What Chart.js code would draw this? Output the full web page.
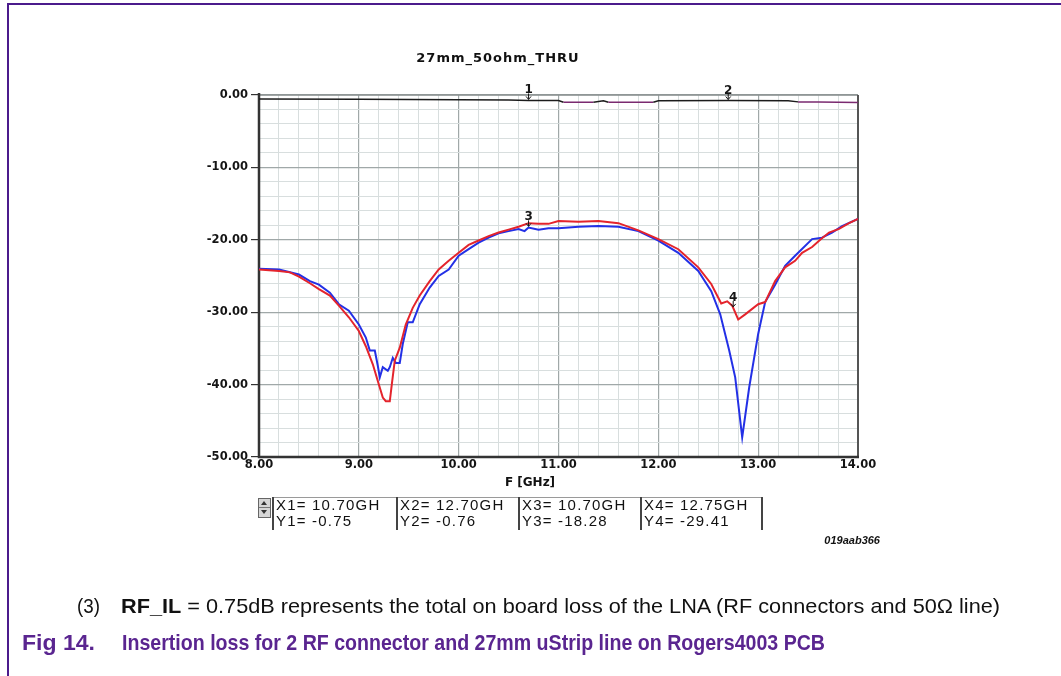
<!DOCTYPE html>
<html>
<head>
<meta charset="utf-8">
<title>27mm_50ohm_THRU</title>
<script src="https://cdn.jsdelivr.net/npm/chart.js@4.4.1/dist/chart.umd.min.js"></script>
<style>
    html, body { margin: 0; padding: 0; background: #ffffff; }
    body { width: 1061px; height: 676px; position: relative; overflow: hidden; font-family: "Liberation Sans", Arial, sans-serif; }
    #frame-top { position: absolute; left: 7px; top: 3px; width: 1054px; height: 2px; background: #4b1b8c; }
    #frame-left { position: absolute; left: 7px; top: 3px; width: 2px; height: 673px; background: #4b1b8c; }
    #chart-wrap { position: absolute; left: 0; top: 0; width: 1061px; height: 676px; }
    .chart-title { position: absolute; top: 50px; left: 405px; width: 186px; text-align: center; font: bold 13px "DejaVu Sans", sans-serif; color: #111; letter-spacing: 1px; }
    .axis-title { position: absolute; top: 475px; left: 470px; width: 120px; text-align: center; font: bold 12px "DejaVu Sans", sans-serif; color: #111; }
    .spinner { position: absolute; left: 258px; top: 498px; width: 11px; height: 18px; border: 1px solid #666; background: #d6d6d6; }
    .spinner div { position: absolute; left: 2px; width: 0; height: 0; border-left: 3px solid transparent; border-right: 3px solid transparent; }
    .spinner .up { top: 2px; border-bottom: 4px solid #333; }
    .spinner .down { top: 11px; border-top: 4px solid #333; }
    .spinner .mid { top: 8px; left: 0; width: 11px; height: 0; border: 0; border-top: 1px solid #777; }
    .readout-top { position: absolute; left: 272px; top: 497px; width: 489px; height: 0; border-top: 1px solid #9a9a9a; }
    .cell { position: absolute; top: 497px; height: 33px; border-left: 2px solid #444; font: 15px "Liberation Sans", Arial, sans-serif; color: #111; line-height: 16px; padding-left: 2px; white-space: nowrap; letter-spacing: 1.2px; overflow: hidden; }
    .cell.last { border-right: 2px solid #444; }
    .fig-id { position: absolute; top: 534px; left: 790px; width: 90px; text-align: right; font: italic bold 11px "Liberation Sans", Arial, sans-serif; color: #111; }
    .fit { position: absolute; white-space: nowrap; transform-origin: 0 0; }
    .note { font-size: 21px; color: #111; }
    .fig { font-size: 22px; font-weight: bold; color: #5a2590; }
</style>
</head>
<body>
<div id="frame-top"></div>
<div id="frame-left"></div>
<div id="chart-wrap"><canvas id="thruChart" width="1061" height="676"></canvas></div>

<div class="chart-title">27mm_50ohm_THRU</div>
<div class="axis-title">F [GHz]</div>

<div class="spinner"><div class="up"></div><div class="mid"></div><div class="down"></div></div>
<div class="readout-top"></div>
<div id="readout"></div>
<div class="fig-id">019aab366</div>

<div class="fit note" id="note-num" data-width="23" style="left:77px; top:594px;">(3)</div>
<div class="fit note" id="note-text" data-width="879" style="left:121px; top:594px;"><b>RF_IL</b> = 0.75dB represents the total on board loss of the LNA (RF connectors and 50Ω line)</div>
<div class="fit fig" id="fig-num" data-width="73" style="left:22px; top:630px;">Fig 14.</div>
<div class="fit fig" id="fig-text" data-width="703" style="left:122px; top:630px;">Insertion loss for 2 RF connector and 27mm uStrip line on Rogers4003 PCB</div>

<script>
// ==================== Data ====================
// Frequency axis (GHz) and loss axis (dB)
const xMajorTicks = [8, 9, 10, 11, 12, 13, 14];
const yMajorTicks = [0, -10, -20, -30, -40, -50];

// THRU trace (near 0 dB)
const thruFreq = [8.0, 9.0, 10.0, 10.5, 10.7, 11.0, 11.05, 11.35, 11.45, 11.5, 11.95, 12.0, 12.7, 13.3, 13.4, 13.6, 14.0];
const thruLoss = [-0.55, -0.6, -0.65, -0.7, -0.75, -0.75, -1.0, -1.0, -0.8, -1.0, -1.0, -0.8, -0.76, -0.8, -0.95, -0.95, -1.05];

// Red trace
const redFreq = [8.00, 8.20, 8.31, 8.40, 8.51, 8.60, 8.71, 8.80, 8.90, 9.00, 9.07, 9.14, 9.19, 9.24, 9.27, 9.31, 9.33, 9.36, 9.41, 9.47,
    9.54, 9.61, 9.71, 9.80, 9.90, 10.00, 10.10, 10.20, 10.30, 10.40, 10.50, 10.60, 10.70, 10.80, 10.90, 11.00, 11.20, 11.40, 11.60, 11.80,
    12.00, 12.20, 12.40, 12.53, 12.63, 12.69, 12.74, 12.80, 12.87, 13.00, 13.07, 13.17, 13.27, 13.37, 13.44, 13.54, 13.63, 13.71, 13.81, 13.91, 14.00];
const redLoss = [-24.1, -24.3, -24.5, -25.1, -26.0, -26.8, -27.7, -29.1, -30.7, -32.6, -34.7, -37.2, -39.5, -41.8, -42.3, -42.3, -40.0, -36.7, -34.9, -31.7,
    -29.4, -27.7, -25.7, -24.1, -22.9, -21.8, -20.7, -20.1, -19.5, -19.0, -18.6, -18.2, -17.7, -17.8, -17.8, -17.4, -17.5, -17.4, -17.7, -18.7,
    -19.9, -21.3, -23.8, -26.1, -28.8, -28.5, -29.1, -31.0, -30.3, -28.9, -28.6, -25.7, -23.8, -22.9, -21.8, -21.0, -19.9, -19.0, -18.5, -17.7, -17.1];

// Blue trace
const blueFreq = [8.00, 8.20, 8.40, 8.51, 8.60, 8.71, 8.80, 8.90, 9.00, 9.07, 9.11, 9.16, 9.19, 9.21, 9.24, 9.29, 9.31, 9.34, 9.37, 9.41,
    9.44, 9.49, 9.54, 9.61, 9.71, 9.80, 9.90, 10.00, 10.10, 10.20, 10.30, 10.40, 10.50, 10.60, 10.66, 10.70, 10.80, 10.90, 11.00, 11.20,
    11.40, 11.60, 11.80, 12.00, 12.20, 12.40, 12.53, 12.62, 12.71, 12.77, 12.84, 12.91, 13.00, 13.07, 13.17, 13.27, 13.37, 13.54, 13.64, 13.74, 13.84, 14.00];
const blueLoss = [-24.0, -24.1, -24.8, -25.7, -26.2, -27.3, -28.9, -29.8, -31.7, -33.5, -35.3, -35.3, -37.4, -39.0, -37.6, -38.1, -37.6, -36.3, -37.0, -37.0,
    -34.4, -31.4, -31.4, -28.9, -26.6, -25.0, -24.1, -22.2, -21.3, -20.4, -19.7, -19.1, -18.8, -18.5, -18.8, -18.3, -18.6, -18.4, -18.4, -18.2,
    -18.1, -18.2, -18.8, -20.1, -21.8, -24.3, -27.1, -30.3, -35.3, -39.0, -47.3, -40.4, -33.0, -28.6, -26.2, -23.6, -22.2, -19.9, -19.7, -19.0, -18.1, -17.1];

// Markers 1..4
const markerLabels = ['1', '2', '3', '4'];
const markerFreq = [10.70, 12.70, 10.70, 12.75];
const markerLoss = [-0.75, -0.76, -18.28, -29.41];
const markerUnit = 'GH';

// ==================== Helpers ====================
function toPoints(xs, ys) {
    return xs.map((x, i) => ({ x: x, y: ys[i] }));
}

function isMajor(list, value) {
    return list.some(t => Math.abs(t - value) < 1e-6);
}

// Readout strip under the chart
function renderReadout() {
    const lefts = [272, 396, 518, 640];
    const box = document.getElementById('readout');
    box.innerHTML = markerLabels.map((label, i) => {
        const last = i === markerLabels.length - 1 ? ' last' : '';
        const width = i === markerLabels.length - 1 ? 117 : lefts[i + 1] - lefts[i] - 4;
        return `<div class="cell${last}" style="left:${lefts[i]}px; width:${width}px;">` +
            `X${label}= ${markerFreq[i].toFixed(2)}${markerUnit}<br>Y${label}= ${markerLoss[i].toFixed(2)}</div>`;
    }).join('');
}

// Squeeze caption lines to the narrow face of the original
function fitCaptions() {
    document.querySelectorAll('.fit[data-width]').forEach(el => {
        const target = parseFloat(el.dataset.width);
        const w = el.getBoundingClientRect().width;
        if (w > 0) el.style.transform = `scaleX(${target / w})`;
    });
}

// Plot frame: heavy left/bottom axes, lighter top/right
const framePlugin = {
    id: 'frame',
    beforeDatasetsDraw(chart) {
        const { ctx, chartArea: a } = chart;
        ctx.save();
        ctx.strokeStyle = '#8a9090';
        ctx.lineWidth = 1.5;
        ctx.beginPath();
        ctx.moveTo(a.left, a.top);
        ctx.lineTo(a.right, a.top);
        ctx.stroke();
        ctx.strokeStyle = '#555';
        ctx.lineWidth = 2;
        ctx.beginPath();
        ctx.moveTo(a.right, a.top);
        ctx.lineTo(a.right, a.bottom);
        ctx.stroke();
        ctx.strokeStyle = '#333';
        ctx.lineWidth = 2.5;
        ctx.beginPath();
        ctx.moveTo(a.left, a.top - 2);
        ctx.lineTo(a.left, a.bottom);
        ctx.lineTo(a.right + 1, a.bottom);
        ctx.stroke();
        ctx.restore();
    }
};

// Marker numbers with a small arrow pointing at the trace
const markerPlugin = {
    id: 'markers',
    afterDatasetsDraw(chart) {
        const { ctx, scales } = chart;
        ctx.save();
        ctx.fillStyle = '#151515';
        ctx.strokeStyle = '#151515';
        ctx.lineWidth = 1;
        ctx.font = 'bold 12px "DejaVu Sans"';
        ctx.textAlign = 'center';
        ctx.textBaseline = 'alphabetic';
        markerLabels.forEach((label, i) => {
            const px = scales.x.getPixelForValue(markerFreq[i]);
            const py = scales.y.getPixelForValue(markerLoss[i]);
            ctx.fillText(label, px, py - 7);
            ctx.beginPath();
            ctx.moveTo(px, py - 7);
            ctx.lineTo(px, py - 1);
            ctx.moveTo(px - 2.5, py - 4);
            ctx.lineTo(px, py - 1);
            ctx.lineTo(px + 2.5, py - 4);
            ctx.stroke();
        });
        ctx.restore();
    }
};

// ==================== Chart ====================
let thruChart = null;

function renderThruChart() {
    const ctx = document.getElementById('thruChart');
    if (!ctx) return;

    Chart.defaults.font.family = '"DejaVu Sans", sans-serif';

    thruChart = new Chart(ctx, {
        type: 'line',
        data: {
            datasets: [
                {
                    label: 'THRU',
                    data: toPoints(thruFreq, thruLoss),
                    borderColor: '#1c1c1c',
                    borderWidth: 1.5,
                    segment: {
                        borderColor: c => (c.p0.parsed.y <= -0.95 && c.p1.parsed.y <= -0.95) ? '#7a2a70' : '#1c1c1c'
                    }
                },
                {
                    label: 'Red',
                    data: toPoints(redFreq, redLoss),
                    borderColor: '#e4242c',
                    borderWidth: 2
                },
                {
                    label: 'Blue',
                    data: toPoints(blueFreq, blueLoss),
                    borderColor: '#2330e6',
                    borderWidth: 2
                }
            ]
        },
        options: {
            responsive: false,
            animation: false,
            layout: { padding: { left: 199, right: 203, top: 95, bottom: 189 } },
            elements: { point: { radius: 0 }, line: { tension: 0 } },
            plugins: { legend: { display: false }, tooltip: { enabled: false } },
            scales: {
                x: {
                    type: 'linear',
                    min: 8,
                    max: 14,
                    afterFit: s => { s.height = 30; },
                    border: { display: false },
                    grid: {
                        drawTicks: false,
                        color: c => isMajor(xMajorTicks, c.tick.value) ? '#a0a8a8' : '#d8dede',
                        lineWidth: c => isMajor(xMajorTicks, c.tick.value) ? 1.2 : 1
                    },
                    ticks: {
                        stepSize: 0.2,
                        autoSkip: false,
                        maxRotation: 0,
                        padding: 1,
                        color: '#151515',
                        font: { size: 11.5, weight: 'bold' },
                        callback: v => isMajor(xMajorTicks, v) ? Number(v).toFixed(2) : ''
                    }
                },
                y: {
                    min: -50,
                    max: 0,
                    afterFit: s => { s.width = 60; },
                    border: { display: false },
                    grid: {
                        tickLength: 8,
                        tickColor: c => isMajor(yMajorTicks, c.tick.value) ? '#333' : 'rgba(0,0,0,0)',
                        color: c => isMajor(yMajorTicks, c.tick.value) ? '#a0a8a8' : '#d8dede',
                        lineWidth: c => isMajor(yMajorTicks, c.tick.value) ? 1.2 : 1
                    },
                    ticks: {
                        stepSize: 2,
                        autoSkip: false,
                        padding: 3,
                        color: '#151515',
                        font: { size: 11.5, weight: 'bold' },
                        callback: v => isMajor(yMajorTicks, v) ? Number(v).toFixed(2) : ''
                    }
                }
            }
        },
        plugins: [framePlugin, markerPlugin]
    });
}

document.addEventListener('DOMContentLoaded', function() {
    renderReadout();
    fitCaptions();
    renderThruChart();
});
</script>
</body>
</html>
